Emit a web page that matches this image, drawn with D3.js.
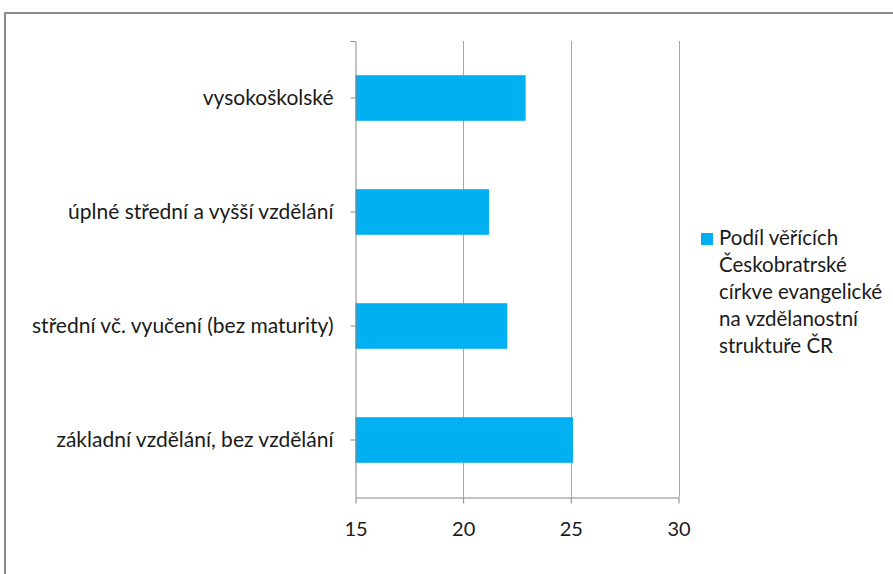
<!DOCTYPE html>
<html>
<head>
<meta charset="utf-8">
<script src="https://cdn.jsdelivr.net/npm/d3@7"></script>
<style>
  body { margin: 0; background: #fff; }
  svg text { font-family: Lato, "Open Sans", sans-serif; fill: #1a1a1a; }
</style>
</head>
<body>
<svg id="chart" width="893" height="574"></svg>
<script>
// categories top to bottom
var categories = [
  "vysokoškolské",
  "úplné střední a vyšší vzdělání",
  "střední vč. vyučení (bez maturity)",
  "základní vzdělání, bez vzdělání"
];
var values = [22.9, 21.2, 22.05, 25.1];
var xTicks = [15, 20, 25, 30];
var legendLines = ["Podíl věřících", "Českobratrské", "církve evangelické", "na vzdělanostní", "struktuře ČR"];

var svg = d3.select("#chart");

// outer frame of the chart (cut off on the right and bottom)
svg.append("rect")
  .attr("x", 5).attr("y", 13)
  .attr("width", 900).attr("height", 580)
  .attr("fill", "#fff")
  .attr("stroke", "#8a8a8a")
  .attr("stroke-width", 2);

var plotLeft = 355.5, plotRight = 678.5, plotTop = 41, plotBottom = 497;

var x = d3.scaleLinear().domain([15, 30]).range([plotLeft, plotRight]);
var y = d3.scaleBand().domain(categories).range([plotTop, plotBottom])
  .paddingInner(0.6).paddingOuter(0.3);

// vertical gridlines
svg.append("g").selectAll("line")
  .data(xTicks.slice(1))
  .enter().append("line")
  .attr("x1", function(d){ return Math.round(x(d)) + 0.5 })
  .attr("x2", function(d){ return Math.round(x(d)) + 0.5 })
  .attr("y1", plotTop).attr("y2", plotBottom)
  .attr("stroke", "#a6a6a6");

// bars
svg.append("g").selectAll("rect")
  .data(values)
  .enter().append("rect")
  .attr("x", x(15))
  .attr("y", function(d, i){ return y(categories[i]) })
  .attr("width", function(d){ return x(d) - x(15) })
  .attr("height", y.bandwidth())
  .attr("fill", "#00b0f0");

// y axis
var yAxis = d3.axisLeft(y).tickSizeInner(5).tickSizeOuter(0).tickPadding(17);
var gy = svg.append("g")
  .attr("transform", "translate(" + plotLeft + ",0)")
  .call(yAxis);
// small end tick at the top of the category axis
gy.append("line")
  .attr("x1", -5).attr("x2", 0)
  .attr("y1", plotTop + 0.5).attr("y2", plotTop + 0.5);

// x axis
var xAxis = d3.axisBottom(x).tickValues(xTicks).tickSizeInner(6).tickSizeOuter(0).tickPadding(18);
var gx = svg.append("g")
  .attr("transform", "translate(0," + (plotBottom + 0.5) + ")")
  .call(xAxis);

[gy, gx].forEach(function(g){
  g.selectAll("path, line").attr("stroke", "#868686");
  g.selectAll("text").style("font-size", "21px").attr("fill", "#1a1a1a");
});
gx.selectAll("text").style("font-size", "20px");

// legend
var legend = svg.append("g").attr("transform", "translate(701,233)");
legend.append("rect")
  .attr("width", 12).attr("height", 12)
  .attr("fill", "#00b0f0");
legend.selectAll("text")
  .data(legendLines)
  .enter().append("text")
  .attr("x", 18)
  .attr("y", function(d, i){ return 12 + i * 27 })
  .style("font-size", "20.5px")
  .text(function(d){ return d });
</script>
</body>
</html>
